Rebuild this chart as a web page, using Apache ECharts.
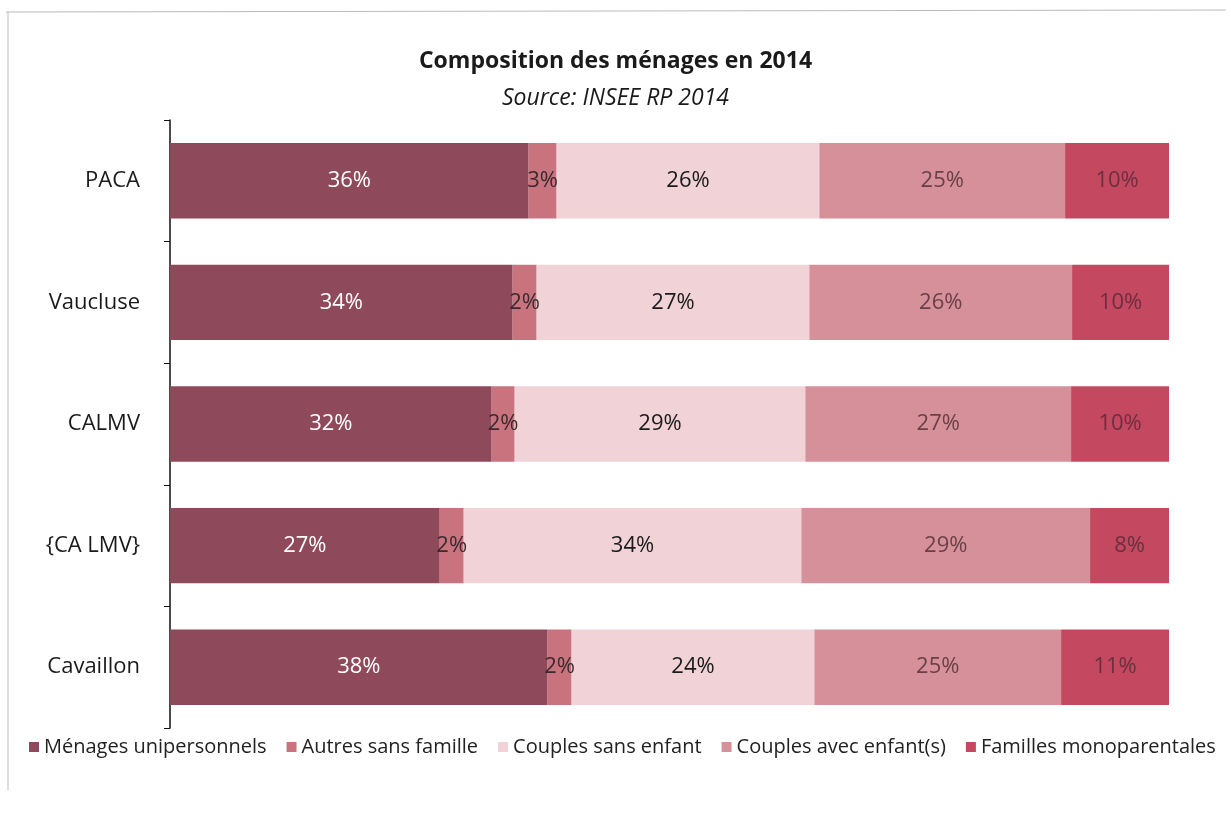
<!DOCTYPE html>
<html>
<head>
<meta charset="utf-8">
<script src="https://cdn.jsdelivr.net/npm/echarts@6/dist/echarts.min.js"></script>
<style>
  html, body { margin: 0; padding: 0; background: #fff; }
  #chart { width: 1231px; height: 820px; }
</style>
</head>
<body>
<div id="chart"></div>
<script>
// catégories (de haut en bas)
const categories = ["PACA", "Vaucluse", "CALMV", "{CA LMV}", "Cavaillon"];

// parts en % (étiquettes arrondies)
const menagesUnipersonnels = [35.9, 34.3, 32.2, 27.0, 37.8];
const autresSansFamille = [2.8, 2.4, 2.3, 2.4, 2.4];
const couplesSansEnfant = [26.3, 27.3, 29.1, 33.8, 24.3];
const couplesAvecEnfants = [24.6, 26.3, 26.6, 28.9, 24.7];
const famillesMonoparentales = [10.4, 9.7, 9.8, 7.9, 10.8];

const seriesDefs = [
  { name: "Ménages unipersonnels", data: menagesUnipersonnels, color: "#8e4a5b", label: "#ffffff" },
  { name: "Autres sans famille", data: autresSansFamille, color: "#c9737f", label: "#3a2a2e" },
  { name: "Couples sans enfant", data: couplesSansEnfant, color: "#f0d2d7", label: "#1a1a1a" },
  { name: "Couples avec enfant(s)", data: couplesAvecEnfants, color: "#d6909a", label: "#6a4048" },
  { name: "Familles monoparentales", data: famillesMonoparentales, color: "#c4485f", label: "#6a3040" }
];

const chart = echarts.init(document.getElementById("chart"));

const options = {
  animation: false,
  textStyle: { fontFamily: "Open Sans" },
  title: {
    text: "Composition des ménages en 2014",
    subtext: "Source: INSEE RP 2014",
    left: "center",
    top: 45,
    itemGap: 14,
    textStyle: { fontSize: 23, fontWeight: "bold", color: "#1a1a1a", fontFamily: "Open Sans" },
    subtextStyle: { fontSize: 23, fontStyle: "italic", color: "#1a1a1a", fontFamily: "Open Sans" }
  },
  legend: {
    bottom: 58,
    left: 24,
    itemWidth: 10,
    itemHeight: 10,
    itemGap: 20,
    icon: "rect",
    textStyle: { fontSize: 20, color: "#222" },
    data: seriesDefs.map(s => s.name)
  },
  grid: { left: 170, right: 62, top: 120, bottom: 92 },
  xAxis: {
    type: "value",
    min: 0,
    max: 100,
    show: false
  },
  yAxis: {
    type: "category",
    inverse: true,
    data: categories,
    axisLine: { lineStyle: { color: "#111", width: 1.5 } },
    axisTick: { show: true, length: 6, lineStyle: { color: "#111" } },
    axisLabel: { fontSize: 22, color: "#1a1a1a", margin: 30 }
  },
  series: seriesDefs.map(s => ({
    name: s.name,
    type: "bar",
    stack: "total",
    barWidth: "62%",
    data: s.data,
    itemStyle: { color: s.color },
    label: {
      show: true,
      position: "inside",
      fontSize: 22,
      color: s.label,
      formatter: p => Math.round(p.value) + "%"
    }
  })),
  graphic: [
    { type: "line", shape: { x1: 6, y1: 12, x2: 1226, y2: 10 }, style: { stroke: "#bbb", lineWidth: 1 } },
    { type: "line", shape: { x1: 8, y1: 12, x2: 8, y2: 790 }, style: { stroke: "#bbb", lineWidth: 1 } }
  ]
};

chart.setOption(options);
</script>
</body>
</html>
